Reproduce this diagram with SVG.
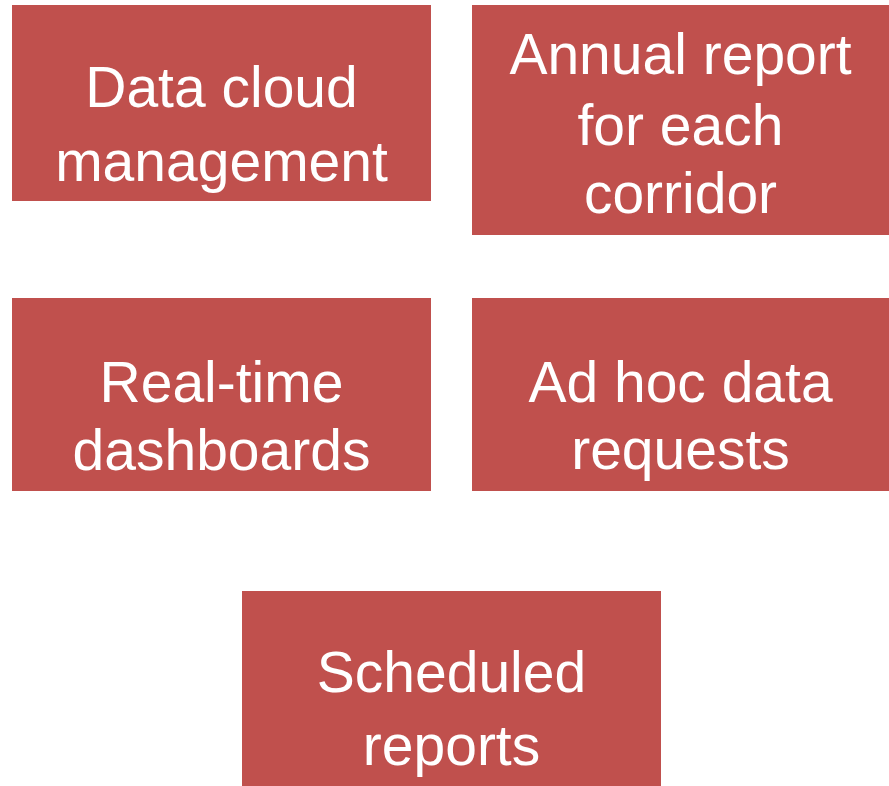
<svg xmlns="http://www.w3.org/2000/svg" width="889" height="786" viewBox="0 0 889 786">
<style>
.box{fill:#C0504D;}
.lbl{font-family:"Liberation Sans",Arial,sans-serif;font-size:57px;fill:#FFFFFF;text-anchor:middle;}
</style>
<rect x="0" y="0" width="889" height="786" fill="#FFFFFF"/>
<g id="node-data-cloud">
<rect class="box" x="12" y="5" width="419" height="196"/>
<text class="lbl" x="221.5" y="107">Data cloud</text>
<text class="lbl" x="221.5" y="181">management</text>
</g>
<g id="node-annual-report">
<rect class="box" x="472" y="5" width="417" height="230"/>
<text class="lbl" x="680.5" y="74">Annual report</text>
<text class="lbl" x="680.5" y="145">for each</text>
<text class="lbl" x="680.5" y="213">corridor</text>
</g>
<g id="node-realtime">
<rect class="box" x="12" y="298" width="419" height="193"/>
<text class="lbl" x="221.5" y="402">Real-time</text>
<text class="lbl" x="221.5" y="470">dashboards</text>
</g>
<g id="node-adhoc">
<rect class="box" x="472" y="298" width="417" height="193"/>
<text class="lbl" x="680.5" y="402">Ad hoc data</text>
<text class="lbl" x="680.5" y="469">requests</text>
</g>
<g id="node-scheduled">
<rect class="box" x="242" y="591" width="419" height="195"/>
<text class="lbl" x="451.5" y="692">Scheduled</text>
<text class="lbl" x="451.5" y="765">reports</text>
</g>
<g id="connectors"></g>
</svg>
